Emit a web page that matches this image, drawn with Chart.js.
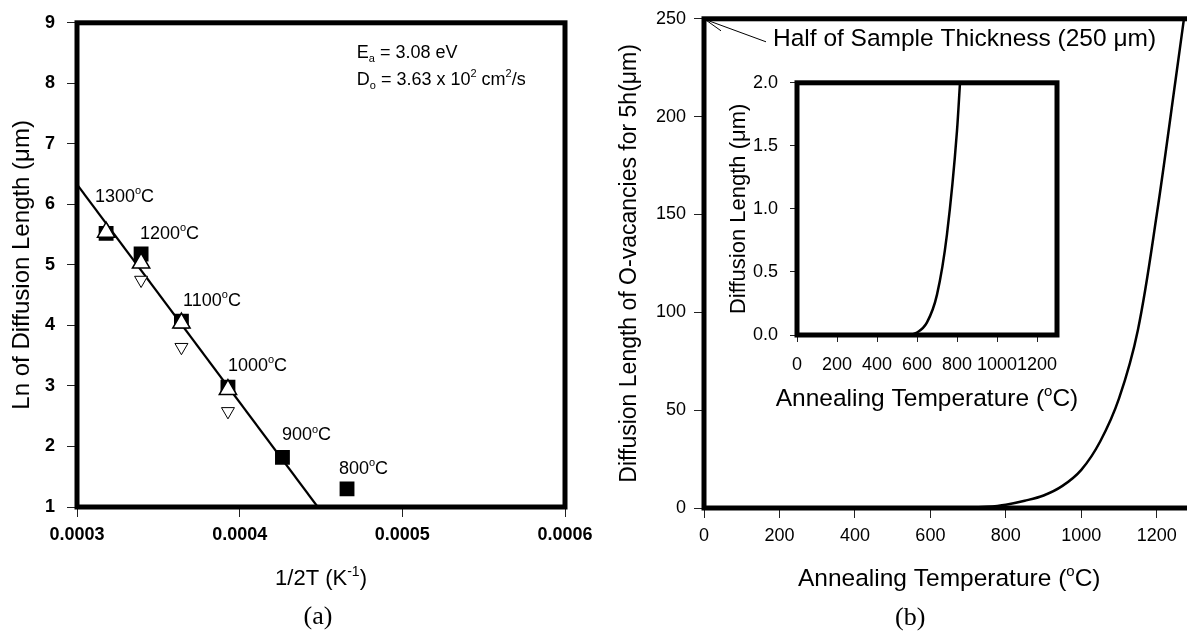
<!DOCTYPE html>
<html>
<head>
<meta charset="utf-8">
<script src="https://cdn.jsdelivr.net/npm/chart.js@4.4.1/dist/chart.umd.min.js"></script>
<style>
html, body { margin: 0; padding: 0; background: #fff; }
#wrap { position: relative; width: 1187px; height: 631px; overflow: hidden; background: #fff; }
#wrap canvas { position: absolute; }
</style>
</head>
<body>
<div id="wrap">
	<canvas id="ca" width="600" height="631" style="left:0;top:0"></canvas>
	<canvas id="cb" width="640" height="631" style="left:580px;top:0"></canvas>
	<canvas id="cc" width="390" height="360" style="left:720px;top:60px"></canvas>
</div>
<script>
// ---- (a) Arrhenius plot : ln(diffusion length) vs 1/2T ----
var tempLabels = ['1300', '1200', '1100', '1000', '900', '800'];
var invT       = [0.0003179, 0.0003394, 0.0003642, 0.0003928, 0.0004263, 0.0004660];
var lnSquare   = [5.52, 5.18, 4.07, 2.98, 1.82, 1.30];
var lnTriUp    = [5.54, 5.03, 4.04, 2.94, null, null];
var lnTriDown  = [null, 4.75, 3.64, 2.58, null, null];
var fitX       = [0.0003, 0.000448];
var fitY       = [6.33, 1.0];
// where the temperature labels sit (data units)
var tempLabelX = [0.000311, 0.0003387, 0.0003652, 0.0003928, 0.000426, 0.000461];
var tempLabelY = [6.15, 5.54, 4.43, 3.36, 2.21, 1.66];
var aXTicks    = [0.0003, 0.0004, 0.0005, 0.0006];
var aYTicks    = [1, 2, 3, 4, 5, 6, 7, 8, 9];

// ---- (b) diffusion length for 5 h vs annealing temperature ----
var mainTemp   = [0, 100, 200, 300, 400, 500, 600, 650, 700, 750, 800, 850, 900, 950, 1000, 1050, 1100, 1150, 1200, 1250, 1272];
var mainLen    = [0, 0, 0, 0, 0, 0, 0, 0.02, 0.1, 0.6, 1.7, 3.7, 6.4, 11.3, 19.5, 34, 56, 91, 150, 219, 250];
var bXTicks    = [0, 200, 400, 600, 800, 1000, 1200];
var bYTicks    = [0, 50, 100, 150, 200, 250];

// inset : zoom on the first 2 um
var insetTemp  = [0, 100, 200, 300, 400, 500, 550, 600, 650, 700, 750, 800, 815];
var insetLen   = [0, 0, 0, 0, 0, 0, 0, 0.02, 0.1, 0.32, 0.8, 1.62, 2.0];
var cXTicks    = [0, 200, 400, 600, 800, 1000, 1200];
var cYTicks    = [0, 0.5, 1.0, 1.5, 2.0];

var FAM   = '"Liberation Sans", Arial, Helvetica, sans-serif';
var SERIF = '"Liberation Serif", "Times New Roman", serif';

function pts( xs, ys ){
	var out = [];
	for( var i = 0; i < xs.length; i++ ) if( ys[i] != null ) out.push( { x: xs[i], y: ys[i] } );
	return out;
}

// text with ^{sup} and _{sub}, y is the vertical centre
function drawRich( ctx, str, x, y, size, opts ){
	opts = opts || {};
	var fam = opts.family || FAM, weight = opts.weight || 'normal';
	var parts = [], re = /([\^_])\{([^}]*)\}|([^\^_]+)/g, m, w = 0;
	while( ( m = re.exec( str ) ) !== null ){
		if( m[3] !== undefined ) parts.push( { t: m[3], k: 0 } );
		else parts.push( { t: m[2], k: ( m[1] == '^' ) ? 1 : -1 } );
	}
	parts.forEach( function( p ){
		p.f = weight + ' ' + ( p.k ? Math.round( size * 0.62 ) : size ) + 'px ' + fam;
		ctx.font = p.f;
		p.w = ctx.measureText( p.t ).width;
		w += p.w;
	} );
	var cx = ( opts.align == 'center' ) ? x - w / 2 : ( ( opts.align == 'right' ) ? x - w : x );
	var base = y + size * 0.36;
	ctx.fillStyle = '#000';
	ctx.textAlign = 'left';
	ctx.textBaseline = 'alphabetic';
	parts.forEach( function( p ){
		var dy = ( p.k == 1 ) ? -size * 0.42 : ( ( p.k == -1 ) ? size * 0.22 : 0 );
		ctx.font = p.f;
		ctx.fillText( p.t, cx, base + dy );
		cx += p.w;
	} );
}

function drawRotated( ctx, str, x, y, size ){
	ctx.save();
	ctx.translate( x, y );
	ctx.rotate( -Math.PI / 2 );
	drawRich( ctx, str, 0, 0, size, { align: 'center' } );
	ctx.restore();
}

var framePlugin = {
	id: 'frame',
	afterDatasetsDraw: function( chart, args, o ){
		var a = chart.chartArea, c = chart.ctx;
		c.save();
		c.lineWidth = o.width || 5;
		c.strokeStyle = '#000';
		c.strokeRect( a.left, a.top, a.right - a.left, a.bottom - a.top );
		c.restore();
	}
};

function axis( min, max, ticks, fit, opts ){
	var horiz = fit == 'h';
	return {
		type: 'linear', min: min, max: max,
		afterBuildTicks: function( s ){ s.ticks = ticks.map( function( v ){ return { value: v }; } ); },
		afterFit: function( s ){ if( horiz ) s.height = opts.size; else s.width = opts.size; },
		grid: { drawOnChartArea: false, tickLength: opts.tl, color: '#222', lineWidth: 1 },
		border: { display: false },
		ticks: {
			font: { family: FAM, size: opts.font, weight: opts.bold ? 'bold' : 'normal' },
			color: '#000', padding: opts.pad, maxRotation: 0, autoSkip: false,
			callback: opts.fmt || function( v ){ return v; }
		}
	};
}

function baseOptions( pad, scales ){
	return {
		responsive: false, animation: false, events: [],
		layout: { padding: pad },
		plugins: { legend: { display: false }, tooltip: { enabled: false }, frame: { width: 5 } },
		scales: scales
	};
}

// ---------- chart (a) ----------
new Chart( document.getElementById( 'ca' ), {
	type: 'scatter',
	data: { datasets: [
		{ data: pts( invT, lnTriUp ), pointStyle: 'triangle', pointRadius: 10, backgroundColor: '#fff', borderColor: '#000', borderWidth: 1.5 },
		{ data: pts( invT, lnTriDown ), pointStyle: 'triangle', pointRotation: 180, pointRadius: 7.5, backgroundColor: '#fff', borderColor: '#000', borderWidth: 1 },
		{ data: pts( fitX, fitY ), showLine: true, pointRadius: 0, borderColor: '#000', borderWidth: 2.2 },
		{ data: pts( invT, lnSquare ), pointStyle: 'rect', pointRadius: 10.5, backgroundColor: '#000', borderColor: '#000', borderWidth: 0 }
	] },
	options: baseOptions( { left: 0, top: 19, right: 35, bottom: 0 }, {
		x: axis( 0.0003, 0.0006, aXTicks, 'h', { size: 124, tl: 10, font: 18, bold: true, pad: 7, fmt: function( v ){ return v.toFixed( 4 ); } } ),
		y: axis( 1, 9, aYTicks, 'v', { size: 77, tl: 10, font: 18, bold: true, pad: 12 } )
	} ),
	plugins: [ framePlugin, {
		id: 'textA',
		afterDraw: function( chart ){
			var c = chart.ctx, a = chart.chartArea, sx = chart.scales.x, sy = chart.scales.y;
			for( var i = 0; i < tempLabels.length; i++ )
				drawRich( c, tempLabels[i] + '^{o}C', sx.getPixelForValue( tempLabelX[i] ), sy.getPixelForValue( tempLabelY[i] ), 18 );
			drawRich( c, 'E_{a} = 3.08 eV', sx.getPixelForValue( 0.000472 ), sy.getPixelForValue( 8.53 ), 18 );
			drawRich( c, 'D_{o} = 3.63 x 10^{2} cm^{2}/s', sx.getPixelForValue( 0.000472 ), sy.getPixelForValue( 8.08 ), 18 );
			var mid = ( a.left + a.right ) / 2;
			drawRotated( c, 'Ln of Diffusion Length (\u03bcm)', a.left - 57, ( a.top + a.bottom ) / 2, 24 );
			drawRich( c, '1/2T (K^{-1})', mid, a.bottom + 70, 22, { align: 'center' } );
			drawRich( c, '(a)', mid - 3, a.bottom + 108, 26, { align: 'center', family: SERIF } );
		}
	} ]
} );

// ---------- chart (b) ----------
new Chart( document.getElementById( 'cb' ), {
	type: 'scatter',
	data: { datasets: [
		{ data: pts( mainTemp, mainLen ), showLine: true, pointRadius: 0, borderColor: '#000', borderWidth: 2.5, tension: 0.35 }
	] },
	options: baseOptions( { left: 0, top: 17, right: 25.5, bottom: 0 }, {
		x: axis( 0, 1300, bXTicks, 'h', { size: 123, tl: 10, font: 18, pad: 7 } ),
		y: axis( 0, 250, bYTicks, 'v', { size: 124, tl: 10, font: 18, pad: 8 } )
	} ),
	plugins: [ framePlugin, {
		id: 'textB',
		afterDraw: function( chart ){
			var c = chart.ctx, a = chart.chartArea, sx = chart.scales.x, sy = chart.scales.y;
			var x0 = sx.getPixelForValue( 0 ), y0 = sy.getPixelForValue( 250 );
			c.save();
			c.strokeStyle = '#000';
			c.lineWidth = 1;
			c.beginPath();
			c.moveTo( x0 + 2, y0 + 1 ); c.lineTo( x0 + 62, y0 + 23 );
			c.moveTo( x0 + 3, y0 + 2 ); c.lineTo( x0 + 17, y0 + 12 );
			c.stroke();
			c.restore();
			drawRich( c, 'Half of Sample Thickness (250 \u03bcm)', x0 + 69, y0 + 18, 24.5 );
			drawRotated( c, 'Diffusion Length of O-vacancies for 5h(\u03bcm)', a.left - 76, ( a.top + a.bottom ) / 2, 23 );
			var mid = ( a.left + a.right ) / 2;
			drawRich( c, 'Annealing Temperature (^{o}C)', mid, a.bottom + 69, 24.5, { align: 'center' } );
			drawRich( c, '(b)', mid - 39, a.bottom + 108, 26, { align: 'center', family: SERIF } );
		}
	} ]
} );

// ---------- inset ----------
new Chart( document.getElementById( 'cc' ), {
	type: 'scatter',
	data: { datasets: [
		{ data: pts( insetTemp, insetLen ), showLine: true, pointRadius: 0, borderColor: '#000', borderWidth: 2.5, cubicInterpolationMode: 'monotone' }
	] },
	options: baseOptions( { left: 0, top: 17, right: 53, bottom: 0 }, {
		x: axis( 0, 1300, cXTicks, 'h', { size: 85, tl: 7, font: 18, pad: 12 } ),
		y: axis( 0, 2, cYTicks, 'v', { size: 77, tl: 7, font: 18, pad: 12, fmt: function( v ){ return v.toFixed( 1 ); } } )
	} ),
	plugins: [ framePlugin, {
		id: 'textC',
		afterDraw: function( chart ){
			var c = chart.ctx, a = chart.chartArea;
			drawRotated( c, 'Diffusion Length (\u03bcm)', a.left - 60, ( a.top + a.bottom ) / 2, 22 );
			drawRich( c, 'Annealing Temperature (^{o}C)', ( a.left + a.right ) / 2, a.bottom + 62, 24.5, { align: 'center' } );
		}
	} ]
} );
</script>
</body>
</html>
